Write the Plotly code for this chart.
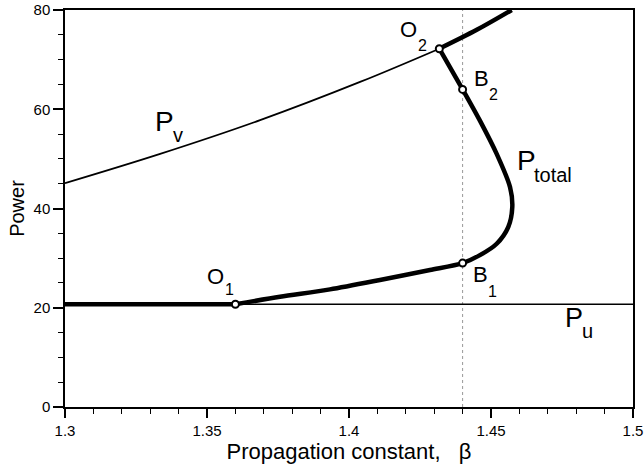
import plotly.graph_objects as go

# ---- data ----
pu_level = 20.7
beta_range = [1.3, 1.5]

pv_beta = [1.3, 1.3335, 1.3687, 1.4039, 1.4318]
pv_power = [45.1, 51.0, 57.8, 65.5, 72.2]

pv_upper_beta = [1.4318, 1.445, 1.4573]
pv_upper_power = [72.2, 76.0, 80.0]

ptot_beta = [1.36, 1.3757, 1.3933, 1.4109, 1.4285, 1.44, 1.4461, 1.452,
             1.4561, 1.4575, 1.4567, 1.452, 1.4461, 1.44, 1.4318]
ptot_power = [20.7, 22.2, 23.7, 25.6, 27.6, 29.0, 30.6, 32.9,
              36.3, 40.3, 44.3, 51.0, 57.7, 64.0, 72.2]

b_beta = 1.44
pts_beta = [1.36, 1.4318, 1.44, 1.44]
pts_power = [20.7, 72.2, 29.0, 64.0]

xtick_vals = [1.3, 1.35, 1.4, 1.45, 1.5]
xtick_text = ["1.3", "1.35", "1.4", "1.45", "1.5"]
ytick_vals = [0, 20, 40, 60, 80]

FONT = "Liberation Sans, Arial, sans-serif"

fig = go.Figure()

# dotted vertical at beta = 1.44
fig.add_trace(go.Scatter(x=[b_beta, b_beta], y=[0, 80], mode="lines",
                         line=dict(color="#999999", width=1, dash="dot"),
                         hoverinfo="skip"))
# P_u thin
fig.add_trace(go.Scatter(x=beta_range, y=[pu_level, pu_level], mode="lines",
                         line=dict(color="black", width=1.6)))
# P_v thin
fig.add_trace(go.Scatter(x=pv_beta, y=pv_power, mode="lines",
                         line=dict(color="black", width=1.8, shape="spline")))
# P_total thick: along P_u
fig.add_trace(go.Scatter(x=[beta_range[0], ptot_beta[0]], y=[pu_level, pu_level],
                         mode="lines", line=dict(color="black", width=4.5)))
# P_total thick: S-curve
fig.add_trace(go.Scatter(x=ptot_beta, y=ptot_power, mode="lines",
                         line=dict(color="black", width=4.5, shape="spline",
                                   smoothing=0.8)))
# P_total thick: along P_v beyond O2
fig.add_trace(go.Scatter(x=pv_upper_beta, y=pv_upper_power, mode="lines",
                         line=dict(color="black", width=4.5, shape="spline")))
# points
fig.add_trace(go.Scatter(x=pts_beta, y=pts_power, mode="markers",
                         marker=dict(size=7, color="white",
                                     line=dict(color="black", width=2)),
                         cliponaxis=False))

labels = [
    ("O", 22, 1.3497, 26.3), ("1", 16, 1.3560, 23.6),
    ("O", 22, 1.4175, 76.1), ("2", 16, 1.4240, 72.9),
    ("B", 22, 1.4436, 66.1), ("2", 16, 1.4490, 63.0),
    ("B", 22, 1.4433, 26.7), ("1", 16, 1.4487, 23.2),
    ("P", 27, 1.4757, 17.9), ("u", 20, 1.4818, 15.3),
    ("P", 28, 1.3312, 57.5), ("v", 20, 1.3378, 54.8),
    ("P", 28, 1.4587, 49.6), ("total", 20, 1.4649, 46.8),
]
for txt, sz, x, y in labels:
    fig.add_annotation(x=x, y=y, text=txt, showarrow=False, xanchor="left",
                       yanchor="middle", borderpad=0,
                       font=dict(family=FONT, size=sz, color="black"))

fig.update_layout(
    width=644, height=465, autosize=False,
    margin=dict(l=65, r=11, t=10, b=58),
    plot_bgcolor="white", paper_bgcolor="white",
    showlegend=False,
    font=dict(family=FONT, color="black"),
)
fig.update_xaxes(range=beta_range, tickvals=xtick_vals, ticktext=xtick_text,
                 automargin=False,
                 showgrid=False, zeroline=False, showline=True, linecolor="black",
                 linewidth=1.5, mirror=True, ticks="outside", ticklen=9,
                 tickwidth=1.5, tickcolor="black",
                 tickfont=dict(size=15, family=FONT),
                 minor=dict(dtick=0.01, ticks="outside", ticklen=5,
                            tickcolor="black", tickwidth=1.2, showgrid=False),
                 title=dict(text="Propagation constant,\u00a0\u00a0\u00a0β",
                            font=dict(size=22, family=FONT), standoff=0))
fig.update_yaxes(range=[0, 80], tickvals=ytick_vals,
                 automargin=False,
                 showgrid=False, zeroline=False, showline=True, linecolor="black",
                 linewidth=1.5, mirror=True, ticks="outside", ticklen=10,
                 tickwidth=1.5, tickcolor="black",
                 tickfont=dict(size=15, family=FONT),
                 minor=dict(dtick=5, ticks="outside", ticklen=5,
                            tickcolor="black", tickwidth=1.2, showgrid=False),
                 title=dict(text="Power", font=dict(size=20, family=FONT),
                            standoff=4))

fig.write_html("out.html", config={"displayModeBar": False},
               post_script="document.body.style.margin='0';"
                           "document.body.style.overflow='hidden';")
